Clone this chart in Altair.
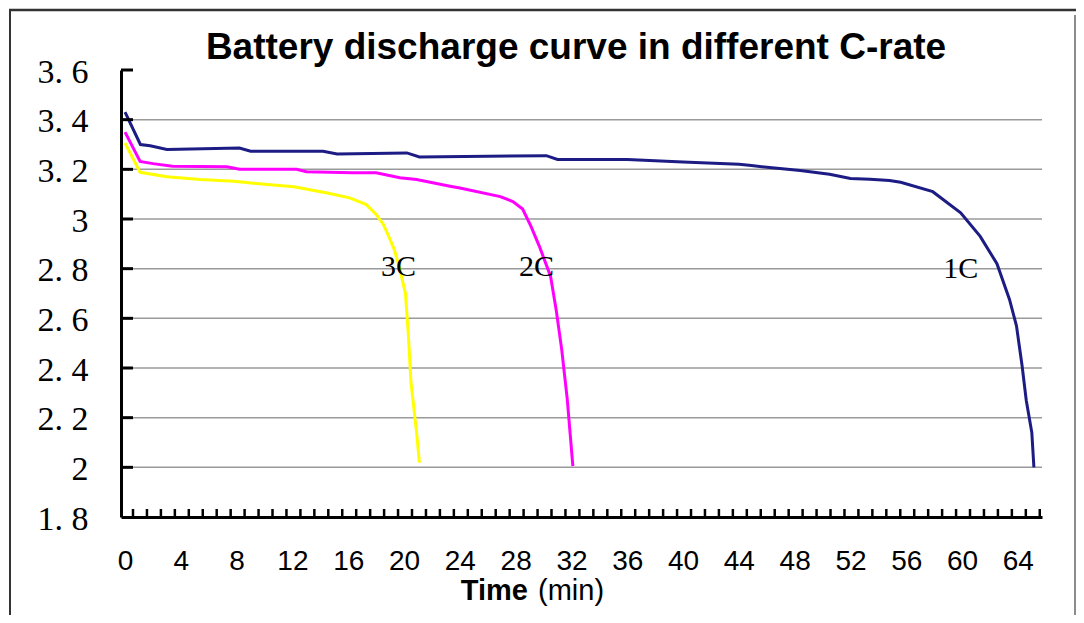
import altair as alt
import pandas as pd

# ---- data ----
t_1c = [0, 1.1, 1.8, 3.0, 8.2, 9.0, 14.2, 15.2, 20.2, 21.1, 30.2, 31.0, 36, 40, 44,
        44.9, 48.4, 50.5, 52, 53.4, 54.8, 55.6, 57.9, 59.9, 61.3, 62.5, 63.4, 63.9,
        64.3, 64.6, 65.0, 65.15]
v_1c = [3.43, 3.30, 3.295, 3.28, 3.286, 3.273, 3.273, 3.262, 3.266, 3.25, 3.255, 3.24,
        3.24, 3.23, 3.22, 3.215, 3.195, 3.18, 3.163, 3.16, 3.155, 3.148, 3.11, 3.025,
        2.93, 2.82, 2.676, 2.57, 2.41, 2.27, 2.14, 2.0]

t_2c = [0, 1.08, 2.0, 3.4, 7.3, 8.2, 12.3, 13.0, 16.3, 18.0, 19.7, 20.9, 23.3, 24.0,
        26.9, 27.8, 28.5, 29.1, 29.7, 30.5, 30.9, 31.3, 31.7, 31.9, 32.1]
v_2c = [3.35, 3.232, 3.223, 3.212, 3.21, 3.2, 3.2, 3.19, 3.186, 3.186, 3.166, 3.159,
        3.132, 3.125, 3.09, 3.07, 3.04, 2.97, 2.89, 2.77, 2.636, 2.475, 2.274, 2.14, 2.005]

t_3c = [0, 1.08, 3.0, 5.4, 7.8, 10.2, 12.1, 14.5, 16.1, 17.3, 18.0, 18.5, 18.9, 19.3,
        19.7, 20.1, 20.3, 20.5, 20.9, 21.1]
v_3c = [3.306, 3.188, 3.17, 3.159, 3.152, 3.139, 3.13, 3.105, 3.085, 3.058, 3.018,
        2.98, 2.93, 2.877, 2.797, 2.70, 2.542, 2.34, 2.14, 2.019]

series_names = ["1C", "2C", "3C"]
series_colors = ["#1c1c84", "#ff00ff", "#ffff00"]

x_tick_labels = list(range(0, 65, 4))
y_tick_values = [1.8, 2.0, 2.2, 2.4, 2.6, 2.8, 3.0, 3.2, 3.4, 3.6]
grid_values = [2.0, 2.2, 2.4, 2.6, 2.8, 3.0, 3.2, 3.4]
y_inner_ticks = [2.0, 2.2, 2.4, 2.6, 2.8, 3.0, 3.2, 3.4, 3.6]
minor_x_ticks = [i + 0.57 for i in range(66)]

label_names = ["3C", "2C", "1C"]
label_t = [19.6, 29.5, 59.9]
label_v = [2.805, 2.805, 2.80]

title_text = "Battery discharge curve in different C-rate"

# ---- tables ----
rows = []
for name, ts, vs in [("1C", t_1c, v_1c), ("2C", t_2c, v_2c), ("3C", t_3c, v_3c)]:
    for i, (t, v) in enumerate(zip(ts, vs)):
        rows.append({"series": name, "t": t, "v": v, "i": i})
curves = pd.DataFrame(rows)
grid_df = pd.DataFrame({"v": grid_values})
ytick_df = pd.DataFrame({"v": y_inner_ticks})
xtick_df = pd.DataFrame({"t": minor_x_ticks})
labels_df = pd.DataFrame({"name": label_names, "t": label_t, "v": label_v})

W, H = 921, 447
xscale = alt.Scale(domain=[-0.29, 65.73], nice=False, zero=False)
yscale = alt.Scale(domain=[1.8, 3.6], nice=False, zero=False)

x_axis = alt.Axis(values=x_tick_labels, grid=False, ticks=False, tickSize=0,
                  domain=True, domainColor="black", domainWidth=3,
                  labelFont="Liberation Sans", labelFontSize=28,
                  labelColor="black", labelPadding=30, labelFlush=False,
                  labelOverlap=False)
y_axis = alt.Axis(values=y_tick_values, grid=False, ticks=False, tickSize=0,
                  domain=True, domainColor="black", domainWidth=3,
                  labelFont="Liberation Serif", labelFontSize=34,
                  labelColor="black", labelPadding=33, labelOffset=2,
                  labelFlush=False, labelOverlap=False,
                  labelExpr="replace(format(datum.value, '.1~f'), '.', '. ')")

grid = alt.Chart(grid_df).mark_rule(color="#9a9a9a", strokeWidth=1.5).encode(
    y=alt.Y("v:Q", scale=yscale, axis=y_axis, title=None)
)

lines = alt.Chart(curves).mark_line(strokeWidth=3).encode(
    x=alt.X("t:Q", scale=xscale, title=None, axis=x_axis),
    y=alt.Y("v:Q", scale=yscale, title=None, axis=y_axis),
    color=alt.Color("series:N", scale=alt.Scale(domain=series_names, range=series_colors),
                    legend=None),
    detail="series:N",
    order="i:Q",
)

yticks = alt.Chart(ytick_df).mark_rule(color="black", strokeWidth=3).encode(
    y=alt.Y("v:Q", scale=yscale, axis=y_axis, title=None), x=alt.value(0), x2=alt.value(12)
)

xticks = alt.Chart(xtick_df).mark_rule(color="black", strokeWidth=2.5).encode(
    x=alt.X("t:Q", scale=xscale, axis=x_axis, title=None), y=alt.value(H), y2=alt.value(H - 8)
)

curve_labels = alt.Chart(labels_df).mark_text(
    font="Liberation Serif", fontSize=30, color="black", baseline="middle", align="center"
).encode(x=alt.X("t:Q", scale=xscale, axis=x_axis, title=None),
         y=alt.Y("v:Q", scale=yscale, axis=y_axis, title=None), text="name:N")

title = alt.Chart(pd.DataFrame({"s": [title_text]})).mark_text(
    font="Liberation Sans", fontSize=37, fontWeight="bold", color="black",
    align="center", baseline="middle"
).encode(x=alt.value(455), y=alt.value(-22), text="s:N")

xt1 = alt.Chart(pd.DataFrame({"s": ["Time"]})).mark_text(
    font="Liberation Sans", fontSize=29, fontWeight="bold", color="black",
    align="right", baseline="alphabetic"
).encode(x=alt.value(407), y=alt.value(530), text="s:N")

xt2 = alt.Chart(pd.DataFrame({"s": ["(min)"]})).mark_text(
    font="Liberation Sans", fontSize=29, color="black",
    align="left", baseline="alphabetic"
).encode(x=alt.value(417), y=alt.value(530), text="s:N")

frame_top = alt.Chart(pd.DataFrame({"a": [0]})).mark_rule(color="#333333", strokeWidth=2.5).encode(
    x=alt.value(-112), x2=alt.value(960), y=alt.value(-60))
frame_left = alt.Chart(pd.DataFrame({"a": [0]})).mark_rule(color="#333333", strokeWidth=2).encode(
    x=alt.value(-111), y=alt.value(-60), y2=alt.value(560))
frame_right = alt.Chart(pd.DataFrame({"a": [0]})).mark_rule(color="#666666", strokeWidth=1.5).encode(
    x=alt.value(954), y=alt.value(-55), y2=alt.value(560))

chart = alt.layer(
    grid, lines, yticks, xticks, curve_labels, title, xt1, xt2,
    frame_top, frame_left, frame_right
).properties(
    width=W, height=H,
    autosize=alt.AutoSizeParams(type="none"),
    padding={"left": 113, "top": 62, "right": 34, "bottom": 98},
    background="white",
).configure_view(stroke=None)

chart.save("out.html", embed_options={"renderer": "svg", "actions": False})
